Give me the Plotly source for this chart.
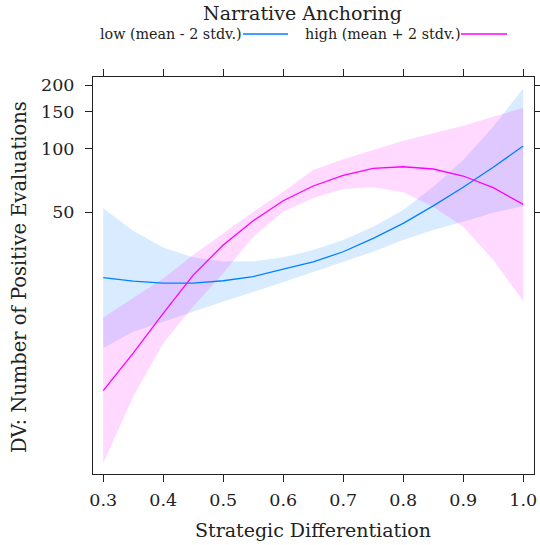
import plotly.graph_objects as go

x_vals = [0.30, 0.35, 0.40, 0.45, 0.50, 0.55, 0.60, 0.65, 0.70, 0.75, 0.80, 0.85, 0.90, 0.95, 1.00]

low_fit = [24.4, 23.5, 23.0, 23.0, 23.6, 24.7, 26.8, 29.0, 32.4, 37.5, 44.2, 53.5, 65.6, 81.6, 103.0]
low_upper = [52.1, 40.8, 33.9, 30.5, 29.1, 29.2, 30.5, 33.0, 36.8, 42.6, 51.1, 66.0, 88.4, 127.2, 193.6]
low_lower = [11.3, 13.5, 15.1, 16.8, 18.8, 20.9, 23.2, 26.0, 29.1, 32.4, 36.8, 41.1, 45.0, 49.7, 53.4]

high_fit = [7.09, 10.7, 16.5, 25.1, 34.9, 45.5, 56.6, 66.5, 74.7, 80.7, 82.1, 80.1, 74.2, 65.3, 54.4]
high_upper = [15.8, 19.5, 24.2, 31.3, 39.6, 50.2, 62.5, 79.2, 89.0, 98.6, 109.1, 118.4, 128.6, 141.9, 156.6]
high_lower = [3.20, 6.63, 11.9, 17.8, 25.6, 38.2, 50.2, 58.3, 64.4, 65.6, 62.1, 53.0, 42.6, 29.6, 18.9]

x_ticks = [0.3, 0.4, 0.5, 0.6, 0.7, 0.8, 0.9, 1.0]
x_tick_text = ["0.3", "0.4", "0.5", "0.6", "0.7", "0.8", "0.9", "1.0"]
y_ticks = [50, 100, 150, 200]
y_tick_text = ["50", "100", "150", "200"]

series_names = ["low (mean - 2 stdv.)", "high (mean + 2 stdv.)"]
colors = ["#0080ff", "#ff00ff"]
band_colors = ["rgba(0,128,255,0.15)", "rgba(255,0,255,0.15)"]

FONT = "DejaVu Serif"
TXT = "#222"

# plot area in pixels
L, R, T, B = 93, 534, 77, 474
W, H = 540, 545
pw, ph = R - L, B - T

def px(xp):
    return (xp - L) / pw

def py(yp):
    return (B - yp) / ph

fig = go.Figure()

for up, lo, bc in [(low_upper, low_lower, band_colors[0]), (high_upper, high_lower, band_colors[1])]:
    fig.add_trace(go.Scatter(
        x=x_vals + x_vals[::-1], y=up + lo[::-1],
        fill="toself", fillcolor=bc, line=dict(width=0), mode="lines",
        showlegend=False, hoverinfo="skip"))

for fit, col, name in [(low_fit, colors[0], series_names[0]), (high_fit, colors[1], series_names[1])]:
    fig.add_trace(go.Scatter(x=x_vals, y=fit, mode="lines",
                             line=dict(color=col, width=1.3), name=name, showlegend=False))

axis_common = dict(showline=True, linecolor=TXT, linewidth=1, mirror="allticks",
                   ticks="outside", ticklen=7, tickcolor=TXT, tickwidth=1,
                   showgrid=False, zeroline=False, automargin=False,
                   tickfont=dict(family=FONT, size=17.5, color=TXT))

fig.update_xaxes(range=[0.283, 1.018], tickvals=x_ticks, ticktext=x_tick_text,
                 ticklabelstandoff=3, **axis_common)
fig.update_yaxes(type="log", range=[0.455, 2.3406], tickvals=y_ticks, ticktext=y_tick_text,
                 ticklabelstandoff=7, **axis_common)

annotations = [
    dict(text="Narrative Anchoring", x=px(302), y=py(13), xref="paper", yref="paper",
         showarrow=False, font=dict(family=FONT, size=19, color=TXT), xanchor="center", yanchor="middle"),
    dict(text=series_names[0], x=px(244), y=py(34), xref="paper", yref="paper",
         showarrow=False, font=dict(family=FONT, size=14.3, color=TXT), xanchor="right", yanchor="middle"),
    dict(text=series_names[1], x=px(462), y=py(34), xref="paper", yref="paper",
         showarrow=False, font=dict(family=FONT, size=14.3, color=TXT), xanchor="right", yanchor="middle"),
    dict(text="Strategic Differentiation", x=px(313), y=py(530), xref="paper", yref="paper",
         showarrow=False, font=dict(family=FONT, size=19, color=TXT), xanchor="center", yanchor="middle"),
    dict(text="DV: Number of Positive Evaluations", x=px(19), y=py(277), xref="paper", yref="paper",
         showarrow=False, font=dict(family=FONT, size=19.5, color=TXT), xanchor="center", yanchor="middle",
         textangle=-90),
]
shapes = [
    dict(type="line", xref="paper", yref="paper", x0=px(243), x1=px(288),
         y0=py(34), y1=py(34), line=dict(color=colors[0], width=1.3)),
    dict(type="line", xref="paper", yref="paper", x0=px(461), x1=px(507),
         y0=py(34), y1=py(34), line=dict(color=colors[1], width=1.3)),
]

fig.update_layout(width=W, height=H, margin=dict(l=L, r=W - R, t=T, b=H - B, autoexpand=False),
                  paper_bgcolor="white", plot_bgcolor="white",
                  annotations=annotations, shapes=shapes, showlegend=False)

fig.write_html("out.html", config={"displayModeBar": False},
               post_script="document.body.style.margin='0';document.body.style.overflow='hidden';")
